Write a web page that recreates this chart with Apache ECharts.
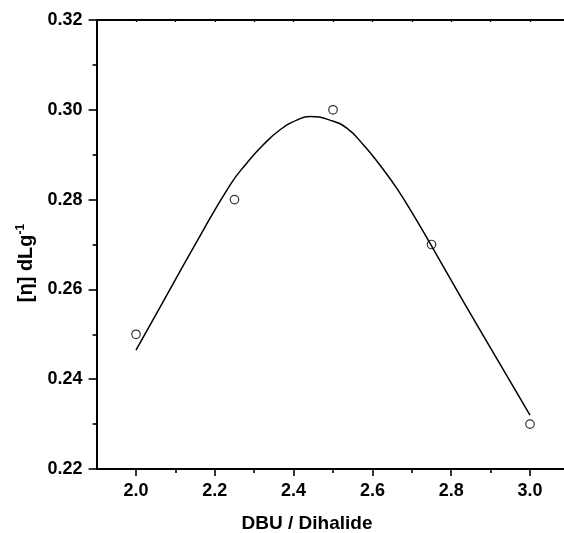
<!DOCTYPE html>
<html>
<head>
<meta charset="utf-8">
<script src="https://cdn.jsdelivr.net/npm/echarts@6/dist/echarts.min.js"></script>
<style>
html,body{margin:0;padding:0;background:#fff;}
#chart{width:564px;height:533px;}
</style>
</head>
<body>
<div id="chart"></div>
<script>
// measured points
const xPoints = [2.0, 2.25, 2.5, 2.75, 3.0];
const yPoints = [0.25, 0.28, 0.30, 0.27, 0.23];
// fitted curve
const fitX = [2.000, 2.069, 2.154, 2.239, 2.281, 2.323, 2.365, 2.408, 2.442, 2.492, 2.535, 2.577, 2.619, 2.662, 2.704, 2.746, 2.831, 2.915, 3.000];
const fitY = [0.2465, 0.2573, 0.2706, 0.2833, 0.2881, 0.2922, 0.2955, 0.2977, 0.2985, 0.2977, 0.2959, 0.2922, 0.2877, 0.2825, 0.2766, 0.2703, 0.2573, 0.2447, 0.2320];
// ticks
const xTicks = [2.0, 2.2, 2.4, 2.6, 2.8, 3.0];
const xMinorTicks = [2.1, 2.3, 2.5, 2.7, 2.9];
const xTopTicks = [2.0, 2.1, 2.2, 2.3, 2.4, 2.5, 2.6, 2.7, 2.8, 2.9, 3.0];
const yTicks = [0.22, 0.24, 0.26, 0.28, 0.30, 0.32];
const yMinorTicks = [0.23, 0.25, 0.27, 0.29, 0.31];
const xTitle = 'DBU / Dihalide';

const FONT = 'Liberation Sans, Arial, sans-serif';
const chart = echarts.init(document.getElementById('chart'), null, {renderer: 'canvas'});

const baseX = {type: 'value', min: 1.9, max: 3.1, splitLine: {show: false}};
const baseY = {type: 'value', min: 0.22, max: 0.32, splitLine: {show: false}};
const lineStyle = {color: '#000', width: 2};

chart.setOption({
  animation: false,
  backgroundColor: '#fff',
  grid: {left: 96.6, right: -5.4, top: 20, bottom: 64, containLabel: false, outerBoundsMode: 'none'},
  xAxis: [
    Object.assign({}, baseX, {
      position: 'bottom',
      axisLine: {show: true, onZero: false, lineStyle: lineStyle},
      axisTick: {show: true, inside: false, length: 7, customValues: xTicks, lineStyle: {color: '#000', width: 1.6}},
      axisLabel: {show: true, customValues: xTicks, margin: 13, formatter: v => v.toFixed(1),
        color: '#000', fontFamily: FONT, fontWeight: 'bold', fontSize: 18}
    }),
    Object.assign({}, baseX, {
      position: 'bottom',
      axisLine: {show: false, onZero: false},
      axisTick: {show: true, inside: false, length: 4, customValues: xMinorTicks, lineStyle: {color: '#000', width: 1.6}},
      axisLabel: {show: false}
    }),
    Object.assign({}, baseX, {
      position: 'top',
      axisLine: {show: true, onZero: false, lineStyle: lineStyle},
      axisTick: {show: true, inside: true, length: 2, customValues: xTopTicks, lineStyle: {color: '#000', width: 1.2}},
      axisLabel: {show: false}
    })
  ],
  yAxis: [
    Object.assign({}, baseY, {
      position: 'left',
      axisLine: {show: true, onZero: false, lineStyle: lineStyle},
      axisTick: {show: true, inside: false, length: 8, customValues: yTicks, lineStyle: {color: '#000', width: 1.6}},
      axisLabel: {show: true, customValues: yTicks, margin: 14, formatter: v => v.toFixed(2),
        color: '#000', fontFamily: FONT, fontWeight: 'bold', fontSize: 18}
    }),
    Object.assign({}, baseY, {
      position: 'left',
      axisLine: {show: false, onZero: false},
      axisTick: {show: true, inside: false, length: 4, customValues: yMinorTicks, lineStyle: {color: '#000', width: 1.6}},
      axisLabel: {show: false}
    })
  ],
  graphic: [
    {
      type: 'text', x: 307, y: 524,
      style: {text: xTitle, fill: '#000', font: 'bold 19px ' + FONT, align: 'center', verticalAlign: 'middle'}
    },
    {
      type: 'text', x: 26, y: 263, rotation: Math.PI / 2,
      style: {
        text: '[η] dLg{sup|-1}', fill: '#000', font: 'bold 20px ' + FONT, align: 'center', verticalAlign: 'middle',
        rich: {sup: {fontSize: 12, fontWeight: 'bold', fontFamily: FONT, fill: '#000', padding: [0, 0, 11, 0]}}
      }
    }
  ],
  series: [
    {
      type: 'line', xAxisIndex: 0, yAxisIndex: 0,
      data: fitX.map((x, i) => [x, fitY[i]]),
      smooth: 0.5, showSymbol: false, symbol: 'none',
      lineStyle: {color: '#000', width: 1.5}, z: 2
    },
    {
      type: 'scatter', xAxisIndex: 0, yAxisIndex: 0,
      data: xPoints.map((x, i) => [x, yPoints[i]]),
      symbol: 'circle', symbolSize: 8.5,
      itemStyle: {color: 'rgba(0,0,0,0)', borderColor: '#000', borderWidth: 1.2}, z: 3
    }
  ]
});
</script>
</body>
</html>
